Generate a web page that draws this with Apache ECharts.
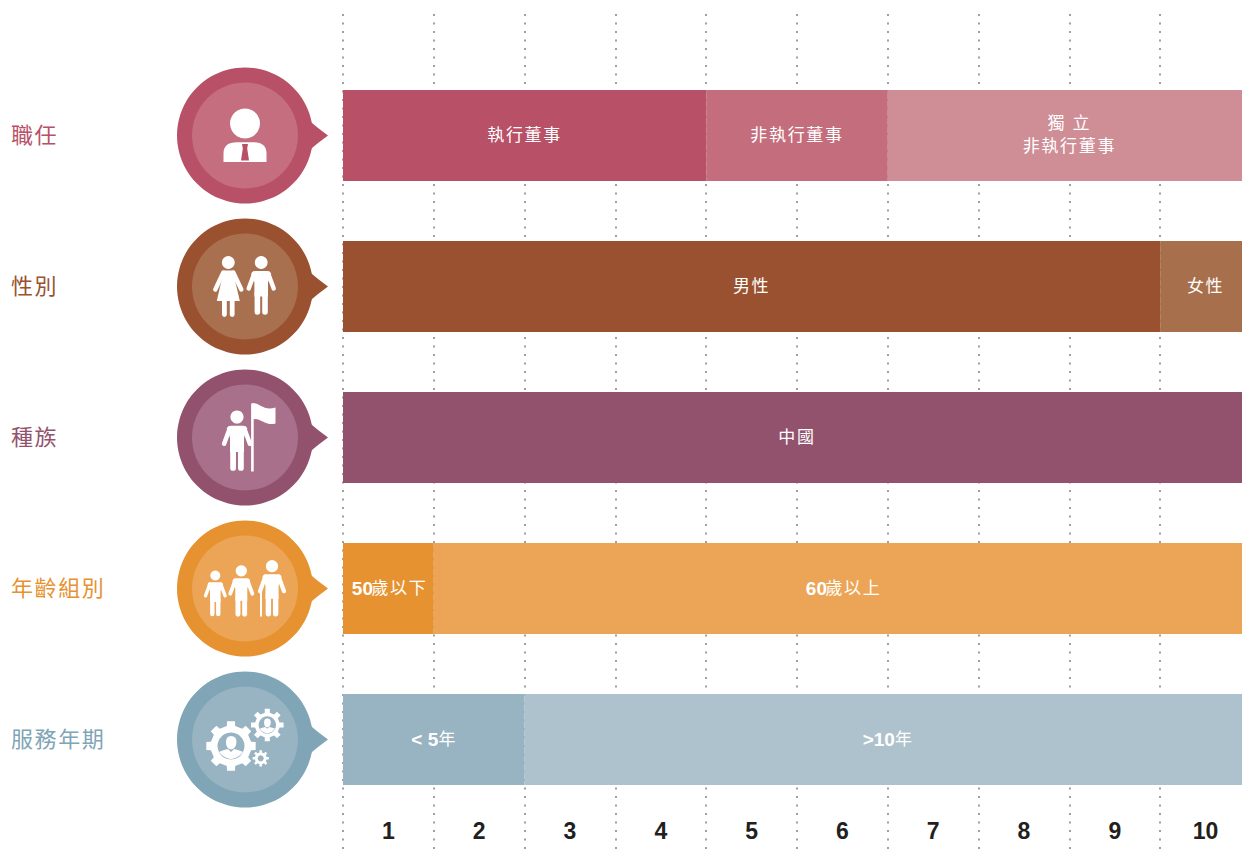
<!DOCTYPE html>
<html><head><meta charset="utf-8">
<style>
html,body{margin:0;padding:0;background:#fff;width:1242px;height:859px;overflow:hidden}
#c{width:1251px;height:859px}
svg text[style*="CJK"]{letter-spacing:1.7px}
svg text[style*="22px"]{letter-spacing:1.6px}
</style>
<script src="https://cdn.jsdelivr.net/npm/echarts@6/dist/echarts.min.js"></script>
</head><body><div id="c"></div>
<script>
const rows = ['職任','性別','種族','年齡組別','服務年期'];
const ticks = ['1','2','3','4','5','6','7','8','9','10'];
const seg1 = [4,9,10,1,2];
const seg2 = [2,1,0,9,8];
const seg3 = [4,0,0,0,0];
const seg1Labels = ['執行董事','男性','中國','{b|50}歲以下','{b|< 5}年'];
const seg2Labels = ['非執行董事','女性','','{b|60}歲以上','{b|>10}年'];
const seg3Labels = ['獨 立\n非執行董事','','','',''];
const seg1Colors = ['#b85067','#99512f','#92526d','#e79230','#98b3c1'];
const seg2Colors = ['#c46d7d','#a86f4c','#92526d','#eca557','#aec2cd'];
const seg3Colors = ['#cf8d96','#a86f4c','#92526d','#eca557','#aec2cd'];
const rowColors = ['#b85067','#99512f','#92526d','#e79230','#7fa5b6'];
const innerColors = ['#c46e80','#a9704f','#a8708a','#eca557','#98b3c1'];
const labelColors = ['#b85067','#99512f','#92526d','#e79230','#7fa5b6'];

const CJK = '"Liberation Sans","Noto Sans CJK TC"';
function segSeries(values, labels, colors){
  return {
    type:'bar', stack:'s', xAxisIndex:2, yAxisIndex:1, barWidth:91, silent:true,
    data: values.map((v,i)=>({
      value:v, itemStyle:{color:colors[i]},
      label:{show:!!labels[i], formatter:labels[i]||''}
    })),
    label:{position:'inside', offset:[0,-0.4], color:'#fff', fontSize:17, lineHeight:23, fontFamily:CJK,
      rich:{b:{fontFamily:'"Liberation Sans"', fontWeight:'bold', fontSize:19, color:'#fff', padding:[0,1,0,0]}}}
  };
}
const W='#fff';
function person(cx, headY, s, out){
  const y=v=>headY+v*s, x=v=>cx+v*s;
  out.push({type:'circle',shape:{cx,cy:headY,r:6.4*s},style:{fill:W}});
  out.push({type:'path',shape:{pathData:`M${x(-6)} ${y(8.5)}L${x(6)} ${y(8.5)}Q${x(9)} ${y(8.5)} ${x(10)} ${y(11)}L${x(6.8)} ${y(20)}L${x(6.8)} ${y(34)}L${x(-6.8)} ${y(34)}L${x(-6.8)} ${y(20)}L${x(-10)} ${y(11)}Q${x(-9)} ${y(8.5)} ${x(-6)} ${y(8.5)}Z`},style:{fill:W}});
  for(const d of [-1,1]){
    out.push({type:'line',shape:{x1:x(d*7),y1:y(11),x2:x(d*12.5),y2:y(26)},style:{stroke:W,lineWidth:4.4*s,lineCap:'round'}});
    out.push({type:'line',shape:{x1:x(d*3.8),y1:y(30),x2:x(d*3.8),y2:y(49.5)},style:{stroke:W,lineWidth:5.6*s,lineCap:'round'}});
  }
}
function woman(cx, headY, out){
  const y=v=>headY+v, x=v=>cx+v;
  out.push({type:'circle',shape:{cx,cy:headY,r:6.4},style:{fill:W}});
  out.push({type:'path',shape:{pathData:`M${x(-4.5)} ${y(8)}L${x(4.5)} ${y(8)}L${x(11.5)} ${y(38.5)}L${x(-11.5)} ${y(38.5)}Z`},style:{fill:W}});
  for(const d of [-1,1]){
    out.push({type:'line',shape:{x1:x(d*5),y1:y(10),x2:x(d*13),y2:y(27)},style:{stroke:W,lineWidth:4.4,lineCap:'round'}});
    out.push({type:'line',shape:{x1:x(d*3.9),y1:y(36),x2:x(d*3.9),y2:y(52)},style:{stroke:W,lineWidth:4.8,lineCap:'round'}});
  }
}
function gear(cx,cy,ro,rb,rh,n,out,inner){
  let d='';
  const hw=Math.PI/n*0.5;
  for(let i=0;i<n;i++){
    const a=i*2*Math.PI/n;
    const p=[[ro,a-hw*0.8],[ro,a+hw*0.8],[rb,a+hw*1.05],[rb,a+Math.PI/n*2-hw*1.05]];
    p.forEach((q,j)=>{d+=(i===0&&j===0?'M':'L')+(cx+q[0]*Math.cos(q[1])).toFixed(2)+' '+(cy+q[0]*Math.sin(q[1])).toFixed(2);});
  }
  out.push({type:'path',shape:{pathData:d+'Z'},style:{fill:W}});
  out.push({type:'circle',shape:{cx,cy,r:rh},style:{fill:inner}});
}
function gearPerson(cx,cy,rh,out){
  const s=rh/13.5;
  out.push({type:'path',shape:{pathData:`M${cx-5*s} ${cy-4*s}Q${cx-5*s} ${cy-10*s} ${cx} ${cy-10*s}Q${cx+5.5*s} ${cy-10*s} ${cx+5.5*s} ${cy-4*s}Q${cx+5*s} ${cy+3*s} ${cx} ${cy+3.5*s}Q${cx-5*s} ${cy+3*s} ${cx-5*s} ${cy-4*s}Z`},style:{fill:W}});
  out.push({type:'path',shape:{pathData:`M${cx-12*s} ${cy+6*s}Q${cx-8*s} ${cy+4*s} ${cx-3*s} ${cy+3*s}L${cx} ${cy+6*s}L${cx+3*s} ${cy+3*s}Q${cx+8*s} ${cy+4*s} ${cx+12*s} ${cy+6*s}Q${cx+7*s} ${cy+rh*0.9} ${cx} ${cy+rh*0.98}Q${cx-7*s} ${cy+rh*0.9} ${cx-12*s} ${cy+6*s}Z`},style:{fill:W}});
}
function icon(i,cx,cy,dark,inner){
  const o=[];
  if(i===0){
    o.push({type:'circle',shape:{cx,cy:cy-12,r:15},style:{fill:W}});
    o.push({type:'path',shape:{pathData:`M${cx-21.5} ${cy+26.5}L${cx-21.5} ${cy+18}Q${cx-21.5} ${cy+6.7} ${cx-8} ${cy+6.7}L${cx+8} ${cy+6.7}Q${cx+21.5} ${cy+6.7} ${cx+21.5} ${cy+18}L${cx+21.5} ${cy+26.5}Z`},style:{fill:W}});
    o.push({type:'polygon',shape:{points:[[cx-3,cy+8.5],[cx+3,cy+8.5],[cx+2.2,cy+13],[cx+4,cy+25],[cx-4,cy+25],[cx-2.2,cy+13]]},style:{fill:dark}});
  } else if(i===1){
    woman(cx-16.7,cy-24,o);
    person(cx+16.2,cy-24,1,o);
  } else if(i===2){
    person(cx-8,cy-20.5,1.03,o);
    o.push({type:'line',shape:{x1:cx+7.4,y1:cy-34,x2:cx+7.4,y2:cy+34},style:{stroke:W,lineWidth:2.6}});
    o.push({type:'path',shape:{pathData:`M${cx+7} ${cy-34}C${cx+14} ${cy-36} ${cx+18} ${cy-26} ${cx+30.5} ${cy-30}L${cx+30.5} ${cy-14}C${cx+20} ${cy-11} ${cx+15} ${cy-21} ${cx+7} ${cy-18}Z`},style:{fill:W}});
  } else if(i===3){
    person(cx-29.7,cy-13,0.78,o);
    person(cx-3.7,cy-17.7,0.88,o);
    person(cx+27,cy-22.3,0.96,o);
    o.push({type:'line',shape:{x1:cx+16,y1:cy+2,x2:cx+16,y2:cy+28},style:{stroke:W,lineWidth:2}});
  } else {
    gear(cx-14,cy+6.5,25,20.5,13.5,8,o,inner);
    gearPerson(cx-14,cy+6.5,13.5,o);
    gear(cx+22.3,cy-14.5,16.5,12.5,8.7,8,o,inner);
    gearPerson(cx+22.3,cy-14.5,8.7,o);
    gear(cx+15.7,cy+18.8,8.2,6,3,8,o,inner);
  }
  return o;
}
const BADGE_X=245;
const badgeSeries={
  type:'custom', xAxisIndex:2, yAxisIndex:1, silent:true, clip:false, z:5,
  data: rows.map((r,i)=>[0,i]),
  renderItem(params,api){
    const i=api.value(1), cy=api.coord([0,i])[1], cx=BADGE_X;
    const dark=rowColors[i], inner=innerColors[i];
    return {type:'group',children:[
      {type:'path',shape:{pathData:`M${cx+64} ${cy-15}Q${cx+72} ${cy-8} ${cx+83} ${cy}Q${cx+72} ${cy+8} ${cx+64} ${cy+15}Z`},style:{fill:dark}},
      {type:'circle',shape:{cx,cy,r:68},style:{fill:dark}},
      {type:'circle',shape:{cx,cy,r:53},style:{fill:inner}},
      ...icon(i,cx,cy,dark,inner)
    ]};
  }
};
const rowRich={};
labelColors.forEach((c,i)=>{rowRich['a'+i]={color:c,fontSize:22,fontFamily:'"Noto Sans CJK TC"',padding:[0,0,6,0]};});
const chart=echarts.init(document.getElementById('c'),null,{renderer:'svg',width:1251,height:859});
chart.setOption({
  animation:false, backgroundColor:'#fff',
  grid:[
    {left:343,top:14,width:908,height:841},
    {left:343,top:60,width:908,height:755}
  ],
  xAxis:[
    {type:'value',gridIndex:0,position:'top',min:0,max:10,interval:1,axisLine:{show:false},axisTick:{show:false},axisLabel:{show:false},
      splitLine:{show:true,showMaxLine:false,lineStyle:{color:'#a0a0a0',width:2,type:[2,6.5]}}},
    {type:'category',gridIndex:0,position:'bottom',data:ticks,axisLine:{show:false},axisTick:{show:false},splitLine:{show:false},
      axisLabel:{inside:true,margin:13,color:'#231f20',fontSize:23,fontWeight:'bold',fontFamily:'"Liberation Sans"'}},
    {type:'value',gridIndex:1,min:0,max:10,show:false,splitLine:{show:false}}
  ],
  yAxis:[
    {type:'value',gridIndex:0,min:0,max:1,show:false,splitLine:{show:false}},
    {type:'category',gridIndex:1,inverse:true,data:rows,axisLine:{show:false},axisTick:{show:false},splitLine:{show:false},
      axisLabel:{margin:332,align:'left',formatter:(v,i)=>`{a${i}|${v}}`,rich:rowRich}}
  ],
  series:[segSeries(seg1,seg1Labels,seg1Colors),segSeries(seg2,seg2Labels,seg2Colors),segSeries(seg3,seg3Labels,seg3Colors),badgeSeries]
});
</script></body></html>
